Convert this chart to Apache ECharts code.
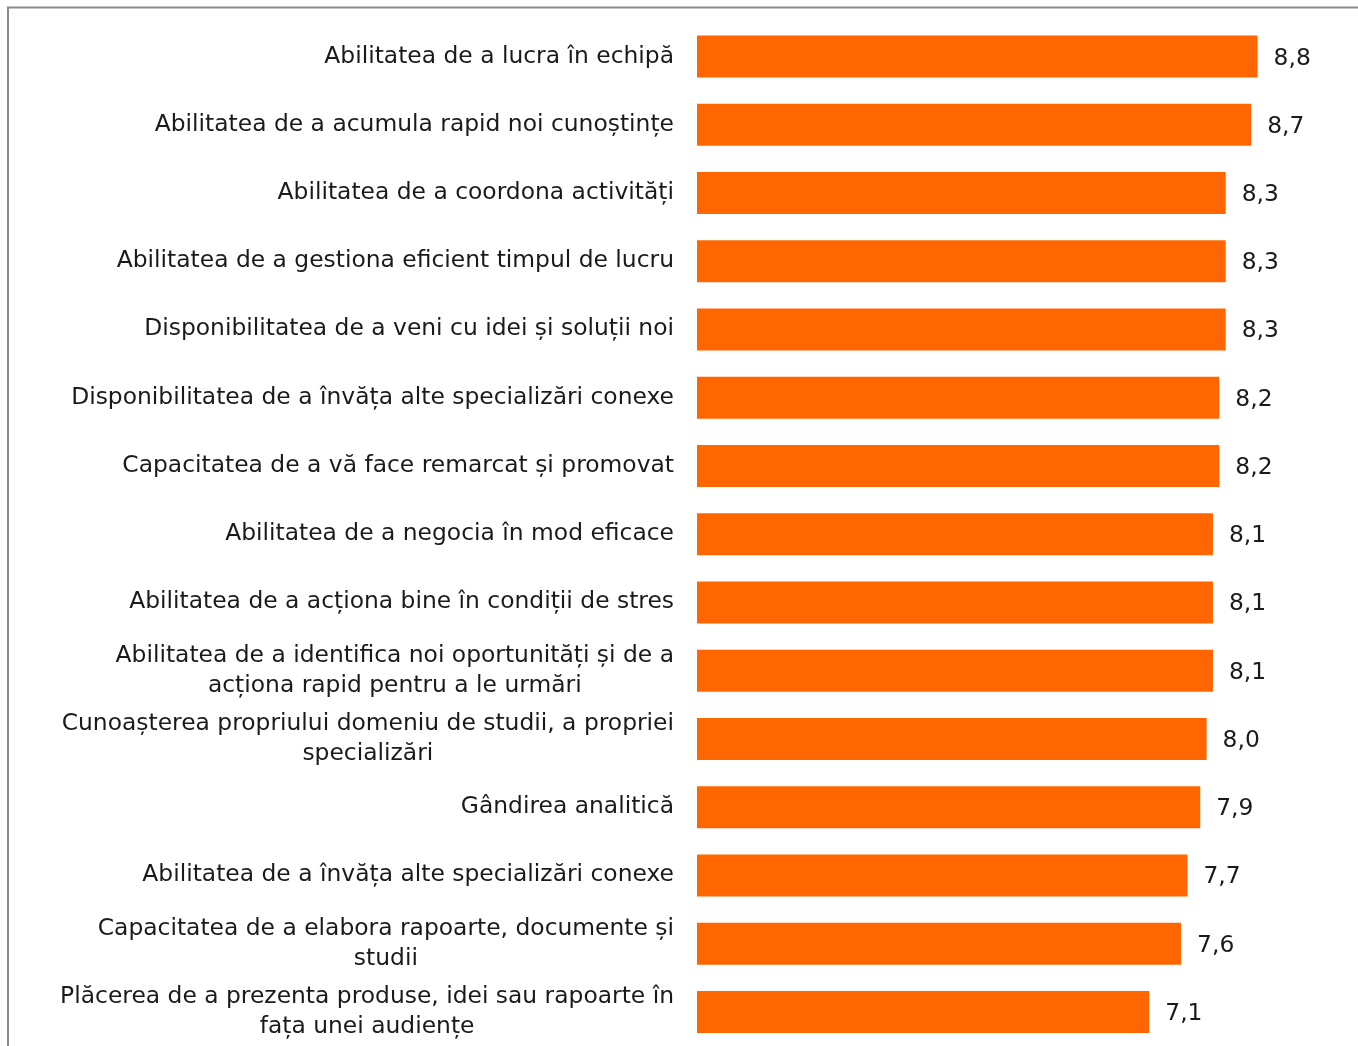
<!DOCTYPE html>
<html>
<head>
<meta charset="utf-8">
<script src="https://cdn.jsdelivr.net/npm/echarts@6/dist/echarts.min.js"></script>
<style>
  html, body { margin: 0; padding: 0; background: #ffffff; }
  #chart { width: 1358px; height: 1046px; }
</style>
</head>
<body>
<div id="chart"></div>
<script>
// Skill ratings, top to bottom
const categories = [
  'Abilitatea de a lucra în echipă',
  'Abilitatea de a acumula rapid noi cunoștințe',
  'Abilitatea de a coordona activități',
  'Abilitatea de a gestiona eficient timpul de lucru',
  'Disponibilitatea de a veni cu idei și soluții noi',
  'Disponibilitatea de a învăța alte specializări conexe',
  'Capacitatea de a vă face remarcat și promovat',
  'Abilitatea de a negocia în mod eficace',
  'Abilitatea de a acționa bine în condiții de stres',
  'Abilitatea de a identifica noi oportunități și de a\nacționa rapid pentru a le urmări',
  'Cunoașterea propriului domeniu de studii, a propriei\nspecializări',
  'Gândirea analitică',
  'Abilitatea de a învăța alte specializări conexe',
  'Capacitatea de a elabora rapoarte, documente și\nstudii',
  'Plăcerea de a prezenta produse, idei sau rapoarte în\nfața unei audiențe'
];
const scores = [8.8, 8.7, 8.3, 8.3, 8.3, 8.2, 8.2, 8.1, 8.1, 8.1, 8.0, 7.9, 7.7, 7.6, 7.1];

const FONT = '"DejaVu Sans", sans-serif';
const TEXT = '#1a1a1a';
const SIZE = 23.4;

const chart = echarts.init(document.getElementById('chart'), null, { renderer: 'canvas' });

chart.setOption({
  animation: false,
  backgroundColor: '#ffffff',
  graphic: [{
    type: 'polyline',
    shape: { points: [[8, 1060], [8, 7.5], [1370, 7.5]] },
    style: { stroke: '#8a8a8a', lineWidth: 2, fill: null },
    silent: true
  }],
  grid: { left: 697, top: 22.3, width: 637, height: 1027, containLabel: false },
  xAxis: {
    type: 'value', min: 0, max: 10,
    show: false
  },
  yAxis: {
    type: 'category',
    data: categories,
    inverse: true,
    axisLine: { show: false },
    axisTick: { show: false },
    splitLine: { show: false },
    axisLabel: {
      margin: 23,
      align: 'right',
      color: TEXT,
      fontFamily: FONT,
      fontSize: SIZE,
      lineHeight: 30,
      // centre every line of a wrapped label within its block
      formatter: v => v.split('\n').map(l => '{c|' + l + '}').join('\n'),
      rich: {
        c: { align: 'center', color: TEXT, fontFamily: FONT, fontSize: SIZE, lineHeight: 30 }
      }
    }
  },
  series: [{
    type: 'bar',
    data: scores,
    barWidth: 42,
    itemStyle: { color: '#ff6600' },
    label: {
      show: true,
      position: 'right',
      distance: 16,
      color: TEXT,
      fontFamily: FONT,
      fontSize: SIZE,
      offset: [0, 2],
      formatter: p => p.value.toFixed(1).replace('.', ',')
    }
  }]
});
</script>
</body>
</html>
